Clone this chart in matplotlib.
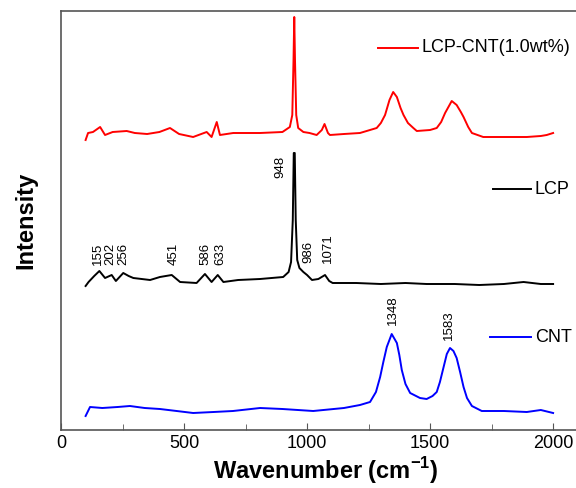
import matplotlib.pyplot as plt
from matplotlib.ticker import MultipleLocator

plt.rcParams['font.family'] = ['Liberation Sans', 'DejaVu Sans']
plt.rcParams['mathtext.fontset'] = 'custom'
plt.rcParams['mathtext.rm'] = 'Liberation Sans:bold'
plt.rcParams['mathtext.bf'] = 'Liberation Sans:bold'

# ---- LCP-CNT (1.0 wt%) spectrum ----
x_mix = [100, 110, 130, 159, 179, 210, 267, 300, 350, 400, 443, 480, 537, 592, 612,
         633, 646, 700, 809, 900, 930, 940, 945, 948, 951, 956, 964, 985, 1010, 1039,
         1060, 1071, 1085, 1093, 1150, 1215, 1283, 1300, 1317, 1335, 1350, 1365, 1380,
         1392, 1410, 1432, 1446, 1500, 1527, 1545, 1561, 1588, 1608, 1625, 1636, 1655,
         1670, 1716, 1800, 1893, 1950, 1974, 2000]
y_mix = [290, 297, 298, 303, 295, 298, 299, 297, 296, 298, 302, 296, 293, 298, 293,
         308, 295, 297, 297, 298, 303, 315, 370, 413, 370, 315, 302, 298, 297, 295,
         300, 306, 297, 295, 296, 297, 302, 307, 315, 330, 338, 333, 322,
         315, 307, 302, 299, 300, 302, 308, 317, 329, 325, 318, 313, 303,
         297, 293, 293, 293, 294, 295, 297]

# ---- LCP spectrum ----
x_lcp = [100, 112, 135, 156, 179, 206, 223, 253, 275, 294, 362, 402, 450, 484, 551,
         585, 612, 637, 660, 720, 809, 903, 925, 935, 942, 946, 950, 954, 960, 969,
         985, 1000, 1020, 1046, 1073, 1090, 1104, 1200, 1300, 1400, 1486, 1600, 1700,
         1800, 1880, 1950, 2000]
y_lcp = [144, 148, 154, 159, 152, 155, 149, 157, 154, 152, 150, 153, 155, 148, 147,
         156, 148, 155, 148, 150, 151, 153, 158, 168, 210, 277, 277, 210, 170, 162,
         158, 155, 150, 151, 155, 149, 147, 147, 146, 147, 146, 146, 145,
         146, 148, 146, 146]

# ---- CNT spectrum ----
x_cnt = [100, 118, 168, 230, 280, 340, 402, 470, 537, 620, 699, 809, 900, 1025, 1150,
         1215, 1256, 1280, 1297, 1310, 1324, 1344, 1365, 1375, 1385, 1400, 1419, 1459,
         1486, 1510, 1527, 1540, 1554, 1568, 1581, 1595, 1608, 1622, 1636, 1650, 1670,
         1710, 1800, 1893, 1950, 2000]
y_cnt = [14, 23, 22, 23, 24, 22, 21, 19, 17, 18, 19, 22, 21, 19, 22,
         25, 28, 38, 53, 68, 83, 96, 87, 75, 60, 46, 37, 32,
         31, 34, 38, 48, 62, 76, 82, 79, 72, 58, 43, 32, 24,
         19, 19, 18, 20, 17]

# peak labels: text, x position, y of text bottom
peak_text = ['155', '202', '256', '451', '586', '633', '948', '986', '1071', '1348', '1583']
peak_x = [150, 202, 253, 459, 585, 646, 890, 1004, 1085, 1351, 1578]
peak_y = [165, 165, 165, 165, 165, 165, 252, 167, 167, 105, 90]

fig = plt.figure(figsize=(5.76, 4.88), dpi=100)
ax = fig.add_axes([61 / 576, 58 / 488, 530 / 576, 419 / 488])

ax.plot(x_mix, y_mix, color='#ff0000', lw=1.4)
ax.plot(x_lcp, y_lcp, color='black', lw=1.4)
ax.plot(x_cnt, y_cnt, color='#0000ff', lw=1.4)

for t, px, py in zip(peak_text, peak_x, peak_y):
    ax.text(px, py, t, rotation=90, ha='center', va='bottom', fontsize=9.5)

# hand-placed legend entries beside each trace
ax.plot([1290, 1450], [382, 382], color='#ff0000', lw=1.4)
ax.text(1465, 382, 'LCP-CNT(1.0wt%)', va='center', fontsize=13)
ax.plot([1755, 1910], [241, 241], color='black', lw=1.4)
ax.text(1925, 241, 'LCP', va='center', fontsize=13)
ax.plot([1745, 1910], [93, 93], color='#0000ff', lw=1.4)
ax.text(1925, 93, 'CNT', va='center', fontsize=13)

ax.set_xlim(0, 2154)
ax.set_ylim(0, 419)
ax.set_yticks([])
ax.xaxis.set_major_locator(MultipleLocator(500))
ax.xaxis.set_minor_locator(MultipleLocator(250))
ax.tick_params(axis='x', which='both', direction='in', labelsize=13, top=False,
               color='#555555')
ax.tick_params(axis='x', which='major', length=5)
ax.tick_params(axis='x', which='minor', length=4)
for s in ax.spines.values():
    s.set_color('#555555')
    s.set_linewidth(1.2)

ax.set_xlabel('Wavenumber (cm$^{-1}$)', fontsize=17, fontweight='bold', labelpad=2)
ax.set_ylabel('Intensity', fontsize=17, fontweight='bold', labelpad=17)

fig.savefig('out.png', dpi=100)
